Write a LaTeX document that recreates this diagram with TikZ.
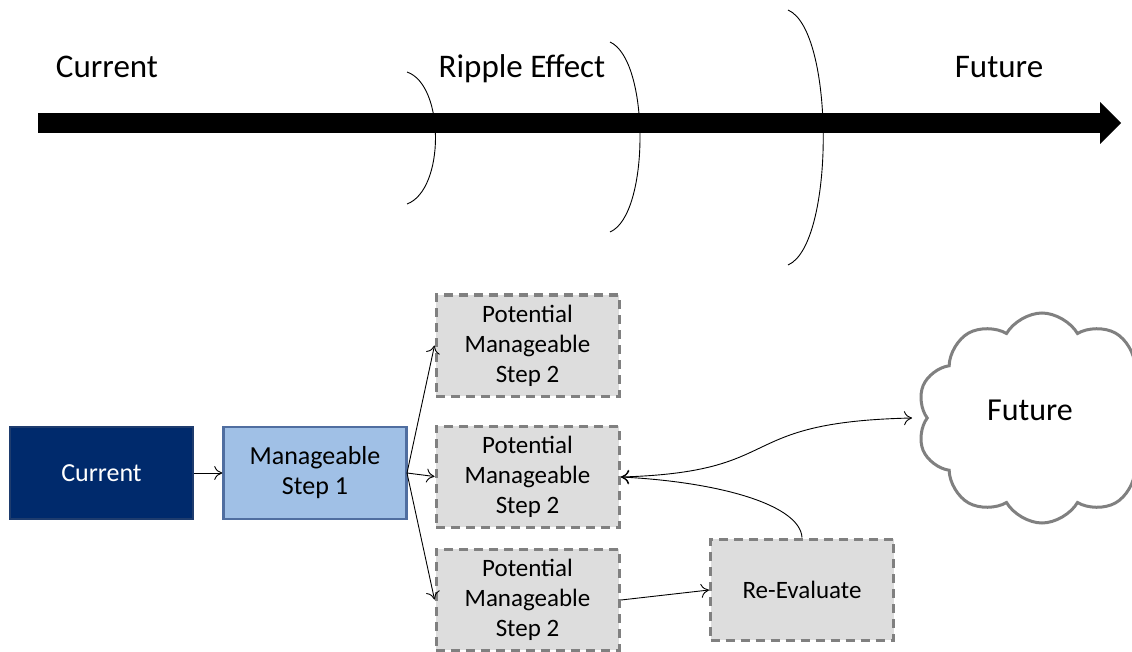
\documentclass[tikz,border=0pt]{standalone}
\usepackage{fontspec}
\setmainfont{Carlito}
\usetikzlibrary{shapes.symbols,arrows.meta}
\definecolor{navy}{RGB}{0,42,108}
\definecolor{navyedge}{RGB}{30,60,110}
\definecolor{lblue}{RGB}{160,192,230}
\definecolor{lblueedge}{RGB}{80,110,160}
\definecolor{boxgray}{RGB}{221,221,221}
\definecolor{dashgray}{RGB}{128,128,128}
\tikzset{
  solidbox/.style={rectangle, minimum width=183pt, minimum height=92pt, line width=2.5pt, align=center, font=\fontsize{26}{30}\selectfont},
  potbox/.style={rectangle, minimum width=183pt, minimum height=101pt, fill=boxgray, draw=dashgray, line width=3pt, dash pattern=on 9pt off 6pt, align=center, font=\fontsize{25}{30}\selectfont},
  conn/.style={line width=0.9pt, -{To[length=8pt,width=14pt]}},
  ripple/.style={line width=0.9pt},
  toplabel/.style={font=\fontsize{33}{38}\selectfont, anchor=base}
}
\begin{document}
\begin{tikzpicture}[x=1pt,y=-1pt]
\useasboundingbox (0,0) rectangle (1132,652);
\clip (0,0) rectangle (1132,652);
% timeline
\fill (38,113) rectangle (1100,133);
\fill (1100,102) -- (1121,123) -- (1100,144) -- cycle;
\node[toplabel] (tcur) at (107,78) {Current};
\node[toplabel] (trip) at (522,78) {Ripple Effect};
\node[toplabel] (tfut) at (999,78) {Future};
% ripples
\draw[ripple] (407,72) .. controls (445,85) and (445,190) .. (407,204);
\draw[ripple] (610,42) .. controls (650,60) and (650,215) .. (610,232);
\draw[ripple] (788,10) .. controls (835,30) and (835,245) .. (788,265);
% boxes
\node[solidbox, fill=navy, draw=navyedge, text=white] (cur) at (101.5,473) {Current};
\node[solidbox, fill=lblue, draw=lblueedge] (s1) at (315,473) {Manageable\\Step 1};
\node[potbox] (p1) at (527.5,345.5) {Potential\\Manageable\\Step 2};
\node[potbox] (p2) at (527.5,476.5) {Potential\\Manageable\\Step 2};
\node[potbox] (p3) at (527.5,599.5) {Potential\\Manageable\\Step 2};
\node[potbox] (re) at (802,589.5) {Re-Evaluate};
\node[cloud, cloud puffs=10, cloud puff arc=120, aspect=1.2, minimum width=250pt, minimum height=210pt, draw=dashgray, line width=3pt, fill=white, inner sep=0pt] (fut) at (1042,418) {};
\node[font=\fontsize{32}{36}\selectfont] (futt) at (1030,410) {Future};
% connectors
\coordinate (s1o) at (407,473);
\draw[conn] (cur.east) -- (s1.west);
\draw[conn] (s1o) -- (p1.west);
\draw[conn] (s1o) -- (p2.west);
\draw[conn] (s1o) -- (p3.west);
\coordinate (p3o) at (621,600);
\coordinate (reo) at (709,590);
\draw[conn] (p3o) -- (reo);
\coordinate (p2o) at (621,477);
\coordinate (cloudin) at (912,418);
\draw[conn] (re.north) .. controls (800,505) and (720,482) .. (p2o);
\draw[line width=0.9pt, {To[length=8pt,width=14pt]}-{To[length=8pt,width=14pt]}] (p2o) .. controls (790,472) and (730,422) .. (cloudin);
\end{tikzpicture}
\end{document}
